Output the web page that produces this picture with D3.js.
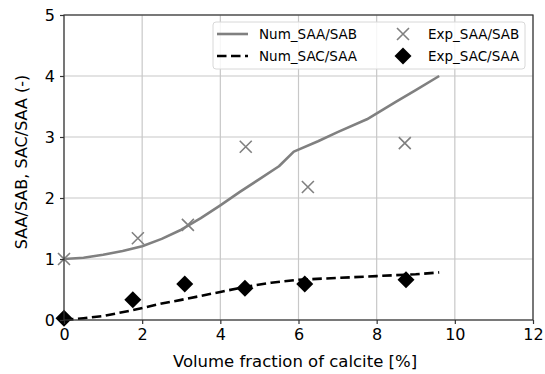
<!DOCTYPE html>
<html>
<head>
<meta charset="utf-8">
<script src="https://cdn.jsdelivr.net/npm/d3@7"></script>
<style>
  body { margin: 0; background: #fff; }
  svg { display: block; font-family: "DejaVu Sans", sans-serif; }
</style>
</head>
<body>
<div id="chart"></div>
<script>
(function () {
    // numerical curves
    const numSaaX = [0, 0.5, 1, 1.5, 2, 2.5, 3, 3.5, 4, 4.5, 5, 5.5, 5.88, 6.5, 7, 7.75, 8.5, 9, 9.6];
    const numSaaY = [1.0, 1.02, 1.07, 1.13, 1.21, 1.33, 1.48, 1.67, 1.88, 2.1, 2.31, 2.52, 2.76, 2.93, 3.08, 3.29, 3.58, 3.77, 4.0];
    const numSacX = [0, 0.5, 1, 1.75, 2.5, 3, 4, 4.6, 5.3, 6, 7, 8, 9, 9.6];
    const numSacY = [0.0, 0.03, 0.065, 0.16, 0.27, 0.33, 0.46, 0.54, 0.61, 0.66, 0.69, 0.72, 0.75, 0.78];
    // experiments
    const expSaaX = [0, 1.89, 3.17, 4.65, 6.24, 8.72];
    const expSaaY = [1.0, 1.34, 1.56, 2.84, 2.18, 2.9];
    const expSacX = [0, 1.76, 3.09, 4.63, 6.16, 8.75];
    const expSacY = [0.03, 0.33, 0.59, 0.52, 0.59, 0.66];

    const xTicks = [0, 2, 4, 6, 8, 10, 12];
    const yTicks = [0, 1, 2, 3, 4, 5];
    const legendNames = ['Num_SAA/SAB', 'Num_SAC/SAA', 'Exp_SAA/SAB', 'Exp_SAC/SAA'];

    const width = 545, height = 374;
    const left = 64, right = 533, top = 15, bottom = 320;

    const svg = d3.select('#chart').append('svg')
        .attr('width', width).attr('height', height);

    const x = d3.scaleLinear().domain([0, 12]).range([left, right]);
    const y = d3.scaleLinear().domain([0, 5]).range([bottom, top]);

    // grid
    const grid = svg.append('g');
    xTicks.forEach(function (t) {
        grid.append('line').attr('x1', x(t)).attr('x2', x(t))
            .attr('y1', top).attr('y2', bottom)
            .attr('stroke', '#c8c8c8').attr('stroke-width', 1.2);
    });
    yTicks.forEach(function (t) {
        grid.append('line').attr('x1', left).attr('x2', right)
            .attr('y1', y(t)).attr('y2', y(t))
            .attr('stroke', '#c8c8c8').attr('stroke-width', 1.2);
    });

    const line = d3.line()
        .x(function (d) { return x(d[0]); }).y(function (d) { return y(d[1]); });

    svg.append('path')
        .attr('d', line(d3.zip(numSaaX, numSaaY)))
        .attr('fill', 'none').attr('stroke', '#808080').attr('stroke-width', 2.6)
        .attr('stroke-linejoin', 'round');
    svg.append('path')
        .attr('d', line(d3.zip(numSacX, numSacY)))
        .attr('fill', 'none').attr('stroke', '#000').attr('stroke-width', 2.6)
        .attr('stroke-dasharray', '9.5,4.5');

    function cross(g, cx, cy, r) {
        g.append('path')
            .attr('d', 'M' + (cx - r) + ',' + (cy - r) + 'L' + (cx + r) + ',' + (cy + r) +
                'M' + (cx - r) + ',' + (cy + r) + 'L' + (cx + r) + ',' + (cy - r))
            .attr('stroke', '#808080').attr('stroke-width', 1.6).attr('fill', 'none');
    }
    function diamond(g, cx, cy, r) {
        g.append('path')
            .attr('d', 'M' + cx + ',' + (cy - r) + 'L' + (cx + r) + ',' + cy +
                'L' + cx + ',' + (cy + r) + 'L' + (cx - r) + ',' + cy + 'Z')
            .attr('fill', '#000');
    }

    const plot = svg.append('g');
    d3.zip(expSaaX, expSaaY).forEach(function (d) { cross(plot, x(d[0]), y(d[1]), 6); });
    d3.zip(expSacX, expSacY).forEach(function (d) { diamond(plot, x(d[0]), y(d[1]), 8.5); });

    // frame
    svg.append('rect').attr('x', left).attr('y', top)
        .attr('width', right - left).attr('height', bottom - top)
        .attr('fill', 'none').attr('stroke', '#333').attr('stroke-width', 1.2);

    // axes
    const xAxis = svg.append('g').attr('transform', 'translate(0,' + bottom + ')')
        .call(d3.axisBottom(x).tickValues(xTicks).tickFormat(d3.format('d')).tickSize(4).tickPadding(5));
    const yAxis = svg.append('g').attr('transform', 'translate(' + left + ',0)')
        .call(d3.axisLeft(y).tickValues(yTicks).tickFormat(d3.format('d')).tickSize(4).tickPadding(5));
    [xAxis, yAxis].forEach(function (a) {
        a.select('.domain').remove();
        a.selectAll('line').attr('stroke', '#333').attr('stroke-width', 1.2);
        a.selectAll('text').attr('font-family', 'DejaVu Sans').attr('font-size', 16).attr('fill', '#000');
    });

    svg.append('text').attr('x', 295).attr('y', 367)
        .attr('text-anchor', 'middle').attr('font-size', 16.5).text('Volume fraction of calcite [%]');
    svg.append('text').attr('transform', 'translate(27,162) rotate(-90)')
        .attr('text-anchor', 'middle').attr('font-size', 16).text('SAA/SAB, SAC/SAA (-)');

    // legend
    const lg = svg.append('g');
    lg.append('rect').attr('x', 213).attr('y', 22).attr('width', 312).attr('height', 47)
        .attr('rx', 3).attr('fill', 'rgba(255,255,255,0.85)').attr('stroke', '#d8d8d8');
    const rowY = [34, 56];
    lg.append('line').attr('x1', 217).attr('x2', 248).attr('y1', rowY[0]).attr('y2', rowY[0])
        .attr('stroke', '#808080').attr('stroke-width', 2.6);
    lg.append('line').attr('x1', 217).attr('x2', 248).attr('y1', rowY[1]).attr('y2', rowY[1])
        .attr('stroke', '#000').attr('stroke-width', 2.6).attr('stroke-dasharray', '9.5,4.5');
    cross(lg, 403, rowY[0], 6);
    diamond(lg, 403, rowY[1], 8.5);
    [[259, rowY[0]], [259, rowY[1]], [428, rowY[0]], [428, rowY[1]]].forEach(function (p, i) {
        lg.append('text').attr('x', p[0]).attr('y', p[1]).attr('dy', '0.35em')
            .attr('font-size', 13.5).text(legendNames[i]);
    });
})();
</script>
</body>
</html>
